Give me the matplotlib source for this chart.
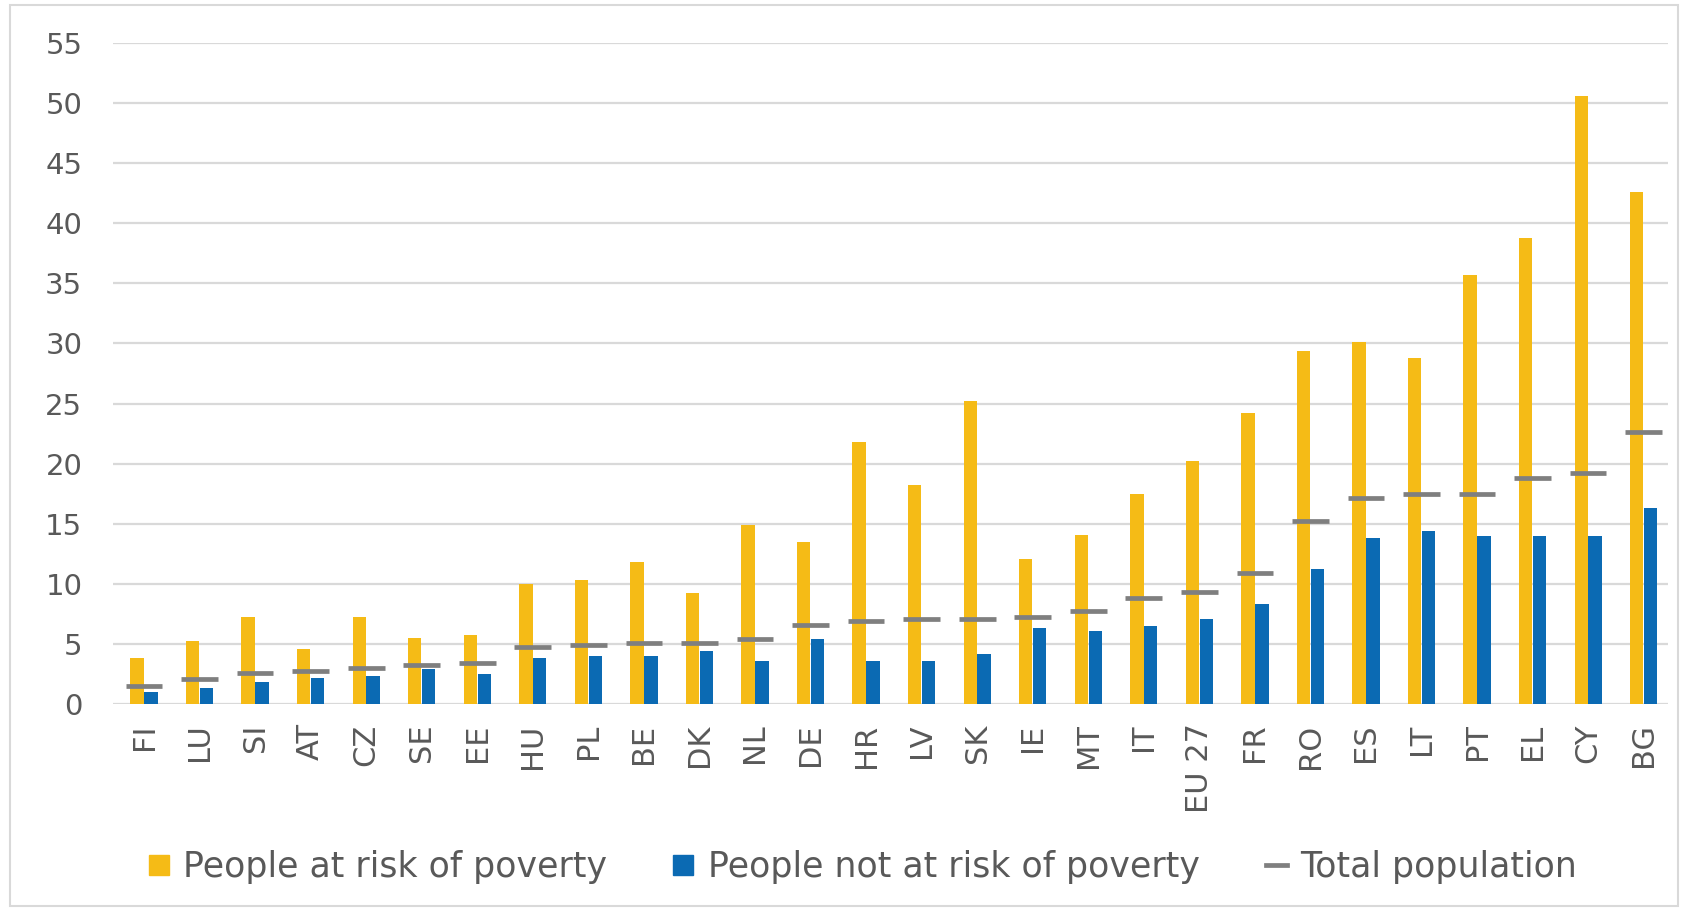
import matplotlib
matplotlib.use("Agg")
import matplotlib.pyplot as plt
import numpy as np
from matplotlib.lines import Line2D
from matplotlib.patches import Rectangle

countries = ["FI", "LU", "SI", "AT", "CZ", "SE", "EE", "HU", "PL", "BE", "DK", "NL", "DE", "HR",
             "LV", "SK", "IE", "MT", "IT", "EU 27", "FR", "RO", "ES", "LT", "PT", "EL", "CY", "BG"]
at_risk = [3.8, 5.25, 7.2, 4.6, 7.2, 5.5, 5.75, 10.0, 10.3, 11.8, 9.2, 14.9, 13.5, 21.8,
           18.2, 25.2, 12.1, 14.1, 17.5, 20.2, 24.2, 29.4, 30.1, 28.8, 35.7, 38.8, 50.6, 42.6]
not_at_risk = [1.0, 1.35, 1.85, 2.2, 2.3, 2.9, 2.5, 3.8, 4.0, 4.0, 4.4, 3.6, 5.4, 3.6,
               3.6, 4.2, 6.3, 6.05, 6.5, 7.1, 8.35, 11.2, 13.8, 14.4, 14.0, 14.0, 14.0, 16.3]
total = [1.5, 2.1, 2.6, 2.75, 3.0, 3.25, 3.4, 4.7, 4.9, 5.1, 5.1, 5.4, 6.6, 6.9,
         7.1, 7.1, 7.2, 7.7, 8.8, 9.3, 10.9, 15.25, 17.1, 17.5, 17.5, 18.8, 19.2, 22.6]
yticks = list(range(0, 56, 5))

YELLOW = "#F5BB16"
BLUE = "#0B6AB3"
GRAY = "#7F7F7F"
TXT = "#595959"

plt.rcParams['font.family'] = ['DejaVu Sans']

fig = plt.figure(figsize=(16.85, 9.10), dpi=100)
fig.patch.set_facecolor("white")
fig.patches.append(Rectangle((0.006, 0.004), 0.99, 0.99, transform=fig.transFigure,
                             fill=False, edgecolor="#D9D9D9", linewidth=1.5))

ax = fig.add_axes([0.067, 0.2264, 0.923, 0.7263])
x = np.arange(len(countries))
w = 0.24
ax.bar(x - 0.125, at_risk, width=w, color=YELLOW, zorder=2)
ax.bar(x + 0.125, not_at_risk, width=w, color=BLUE, zorder=2)
ax.hlines(total, x - 0.33, x + 0.33, color=GRAY, linewidth=3.4, zorder=3)

ax.set_xlim(-0.56, len(countries) - 0.56)
ax.set_ylim(0, 55)
ax.set_yticks(yticks)
ax.set_yticklabels([str(t) for t in yticks])
ax.set_xticks(x)
ax.set_xticklabels(countries, rotation=90)
ax.yaxis.grid(True, color="#D9D9D9", linewidth=1.6, zorder=0)
ax.set_axisbelow(True)
for s in ax.spines.values():
    s.set_visible(False)
ax.tick_params(axis="y", length=0, pad=22, labelsize=21, labelcolor=TXT)
ax.tick_params(axis="x", length=0, pad=14, labelsize=22, labelcolor=TXT)

handles = [
    Line2D([], [], marker="s", linestyle="none", color=YELLOW, markersize=15),
    Line2D([], [], marker="s", linestyle="none", color=BLUE, markersize=15),
    Line2D([], [], color=GRAY, linewidth=3.4),
]
labels = ["People at risk of poverty", "People not at risk of poverty", "Total population"]
leg = fig.legend(handles, labels, loc="center", bbox_to_anchor=(0.512, 0.047), ncol=3,
                 frameon=False, fontsize=25, handlelength=0.6, handletextpad=0.4,
                 columnspacing=1.9)
for t in leg.get_texts():
    t.set_color(TXT)

fig.savefig("out.png", dpi=100, facecolor="white")
